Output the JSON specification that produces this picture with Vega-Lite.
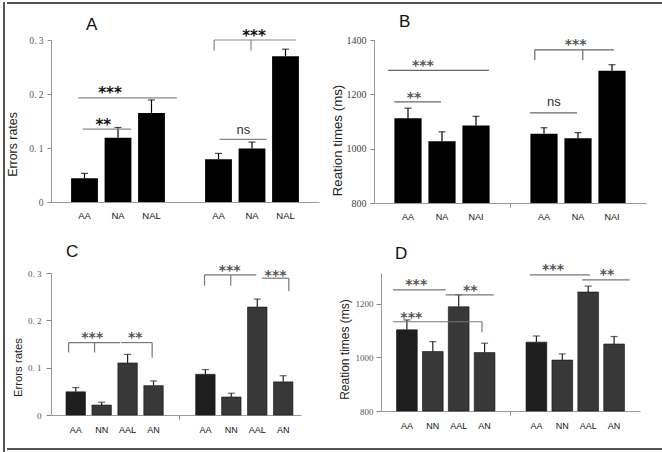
{
"$schema": "https://vega.github.io/schema/vega-lite/v6.json",
"background": "white",
"padding": {"left": 3, "top": 2, "right": 0, "bottom": 0},
"config": {"view": {"stroke": null}, "axis": {"grid": false, "domainColor": "#999", "tickColor": "#888", "labelAngle": 0}, "font": "Liberation Sans"},
"datasets": {
 "barsA": [{"key":"AA|1","c":"AA","v":0.044,"hi":0.053},{"key":"NA|1","c":"NA","v":0.119,"hi":0.138},{"key":"NAL|1","c":"NAL","v":0.165,"hi":0.189},{"key":"AA|2","c":"AA","v":0.079,"hi":0.090},{"key":"NA|2","c":"NA","v":0.099,"hi":0.111},{"key":"NAL|2","c":"NAL","v":0.270,"hi":0.283}],
 "linesA": [{"x1":0.81,"x2":3.76,"y1":0.193,"y2":0.193},{"x1":0.95,"x2":2.39,"y1":0.135,"y2":0.135},{"x1":5.03,"x2":6.44,"y1":0.116,"y2":0.116},{"x1":4.87,"x2":7.31,"y1":0.300,"y2":0.300},{"x1":4.87,"x2":4.87,"y1":0.280,"y2":0.300},{"x1":5.97,"x2":5.97,"y1":0.280,"y2":0.300}],
 "textA": [{"x":1.76,"y":0.207,"t":"***"},{"x":1.56,"y":0.149,"t":"**"},{"x":5.74,"y":0.133,"t":"ns"},{"x":6.06,"y":0.313,"t":"***"}],
 "barsB": [{"key":"AA|1","c":"AA","v":1112,"hi":1149},{"key":"NA|1","c":"NA","v":1027,"hi":1062},{"key":"NAI|1","c":"NAI","v":1085,"hi":1119},{"key":"AA|2","c":"AA","v":1055,"hi":1077},{"key":"NA|2","c":"NA","v":1038,"hi":1059},{"key":"NAI|2","c":"NAI","v":1287,"hi":1309}],
 "linesB": [{"x1":0.41,"x2":3.38,"y1":1288,"y2":1288},{"x1":0.59,"x2":1.97,"y1":1172,"y2":1172},{"x1":4.59,"x2":5.97,"y1":1132,"y2":1132},{"x1":4.73,"x2":7.06,"y1":1364,"y2":1364},{"x1":4.73,"x2":4.73,"y1":1326,"y2":1364},{"x1":6.14,"x2":6.14,"y1":1326,"y2":1364}],
 "textB": [{"x":1.44,"y":1315,"t":"***"},{"x":1.18,"y":1197,"t":"**"},{"x":5.29,"y":1172,"t":"ns"},{"x":5.93,"y":1391,"t":"***"}],
 "barsC": [{"key":"AA|1","c":"AA","v":0.049,"hi":0.058},{"key":"NN|1","c":"NN","v":0.021,"hi":0.027},{"key":"AAL|1","c":"AAL","v":0.110,"hi":0.128},{"key":"AN|1","c":"AN","v":0.062,"hi":0.072},{"key":"AA|2","c":"AA","v":0.086,"hi":0.096},{"key":"NN|2","c":"NN","v":0.038,"hi":0.046},{"key":"AAL|2","c":"AAL","v":0.228,"hi":0.245},{"key":"AN|2","c":"AN","v":0.070,"hi":0.083}],
 "linesC": [{"x1":0.73,"x2":2.72,"y1":0.153,"y2":0.153},{"x1":0.73,"x2":0.73,"y1":0.132,"y2":0.153},{"x1":1.73,"x2":1.73,"y1":0.132,"y2":0.153},{"x1":2.76,"x2":3.95,"y1":0.153,"y2":0.153},{"x1":3.95,"x2":3.95,"y1":0.121,"y2":0.153},{"x1":5.97,"x2":7.96,"y1":0.296,"y2":0.296},{"x1":5.97,"x2":5.97,"y1":0.273,"y2":0.296},{"x1":6.98,"x2":6.98,"y1":0.273,"y2":0.296},{"x1":8.19,"x2":9.22,"y1":0.289,"y2":0.289},{"x1":9.22,"x2":9.22,"y1":0.262,"y2":0.289}],
 "textC": [{"x":1.64,"y":0.168,"t":"***"},{"x":3.30,"y":0.168,"t":"**"},{"x":6.94,"y":0.310,"t":"***"},{"x":8.71,"y":0.301,"t":"***"}],
 "barsD": [{"key":"AA|1","c":"AA","v":1103,"hi":1140},{"key":"NN|1","c":"NN","v":1022,"hi":1059},{"key":"AAL|1","c":"AAL","v":1189,"hi":1234},{"key":"AN|1","c":"AN","v":1018,"hi":1053},{"key":"AA|2","c":"AA","v":1057,"hi":1080},{"key":"NN|2","c":"NN","v":990,"hi":1013},{"key":"AAL|2","c":"AAL","v":1244,"hi":1266},{"key":"AN|2","c":"AN","v":1050,"hi":1078}],
 "linesD": [{"x1":0.46,"x2":2.50,"y1":1252,"y2":1252},{"x1":2.50,"x2":4.35,"y1":1233,"y2":1233},{"x1":0.46,"x2":3.90,"y1":1133,"y2":1133},{"x1":3.90,"x2":3.90,"y1":1094,"y2":1133},{"x1":5.74,"x2":8.06,"y1":1308,"y2":1308},{"x1":7.77,"x2":9.60,"y1":1289,"y2":1289}],
 "textD": [{"x":1.36,"y":1281,"t":"***"},{"x":3.45,"y":1259,"t":"**"},{"x":1.17,"y":1159,"t":"***"},{"x":6.64,"y":1337,"t":"***"},{"x":8.73,"y":1317,"t":"**"}]
},
"spacing": 0,
"hconcat": [
 {"width": 0.01, "height": 448, "view": {"stroke": "#555", "strokeWidth": 2}, "data": {"values": []}, "mark": "rect", "encoding": {}},
 {"spacing": 8, "vconcat": [
  {"width": 654, "height": 0.01, "view": {"stroke": "#555", "strokeWidth": 2}, "data": {"values": []}, "mark": "rect", "encoding": {}},
  {"spacing": 14, "vconcat": [
   {"spacing": -3, "hconcat": [
    {"width": 0.01, "height": 0.01, "data": {"values": []}, "mark": "rect", "encoding": {}},
    {"spacing": 22, "vconcat": [
     {"spacing": 11, "hconcat": [
      {"width": 268, "height": 162,
       "title": {"text": "A", "anchor": "start", "frame": "group", "dx": 35, "dy": 7, "offset": 2, "fontSize": 17, "fontWeight": "normal", "font": "Liberation Sans", "color": "#111"},
       "layer": [
        {"data": {"name": "barsA"},
         "encoding": {
          "x": {"field": "key", "type": "nominal", "sort": null, "scale": {"domain": ["AA|1","NA|1","NAL|1","gap","AA|2","NA|2","NAL|2"], "paddingInner": 0.2, "paddingOuter": 0.6},
                "axis": {"title": null, "labelExpr": "datum.value == 'gap' ? '' : split(datum.value, '|')[0]", "labelFont": "Liberation Sans", "labelFontSize": 9.5, "labelColor": "#111", "labelPadding": 8, "ticks": false}},
          "y": {"field": "v", "type": "quantitative", "title": "Errors rates", "scale": {"domain": [0, 0.3], "nice": false},
                "axis": {"title": "Errors rates", "values": [0,0.05,0.1,0.15,0.2,0.25,0.3], "labelExpr": "datum.value == 0 ? '0' : replace(format(datum.value, '.2~f'), '.', '. ')", "labelFont": "Liberation Serif", "labelFontSize": 9.5, "labelColor": "#556", "labelPadding": 4, "tickSize": 4, "titleFont": "Liberation Sans", "titleFontSize": 12.4, "titleFontWeight": "normal", "titleColor": "#222", "titleY": 104, "titlePadding": 9}}
         },
         "layer": [
          {"mark": {"type": "bar", "color": "#000"}},
          {"mark": {"type": "rule", "color": "#000", "strokeWidth": 1.2}, "encoding": {"y2": {"field": "hi"}}},
          {"mark": {"type": "tick", "color": "#000", "size": 7, "thickness": 1.2}, "encoding": {"y": {"field": "hi", "type": "quantitative", "title": "Errors rates"}}}
         ]},
        {"data": {"name": "linesA"}, "mark": {"type": "rule", "color": "#888", "strokeWidth": 1.2},
         "encoding": {"x": {"field": "x1", "type": "quantitative", "scale": {"domain": [0, 8], "nice": false, "zero": false}, "axis": null}, "x2": {"field": "x2"},
                      "y": {"field": "y1", "type": "quantitative", "title": "Errors rates", "scale": {"domain": [0, 0.3], "nice": false}}, "y2": {"field": "y2"}}},
        {"data": {"name": "textA"}, "transform": [{"filter": "datum.t != 'ns'"}], "mark": {"type": "text", "font": "DejaVu Sans", "fontWeight": "bold", "fontSize": 15, "color": "#111", "baseline": "alphabetic", "dy": 8},
         "encoding": {"x": {"field": "x", "type": "quantitative", "scale": {"domain": [0, 8], "nice": false, "zero": false}, "axis": null},
                      "y": {"field": "y", "type": "quantitative", "title": "Errors rates", "scale": {"domain": [0, 0.3], "nice": false}}, "text": {"field": "t"}}},
        {"data": {"name": "textA"}, "transform": [{"filter": "datum.t == 'ns'"}], "mark": {"type": "text", "font": "Liberation Sans", "fontSize": 13, "color": "#333", "baseline": "alphabetic", "dy": 4},
         "encoding": {"x": {"field": "x", "type": "quantitative", "scale": {"domain": [0, 8], "nice": false, "zero": false}, "axis": null},
                      "y": {"field": "y", "type": "quantitative", "title": "Errors rates", "scale": {"domain": [0, 0.3], "nice": false}}, "text": {"field": "t"}}}
       ],
       "resolve": {"scale": {"x": "independent"}}
      },
      {"width": 272, "height": 163,
       "title": {"text": "B", "anchor": "start", "frame": "group", "dx": 25, "dy": -2, "offset": 2, "fontSize": 17, "fontWeight": "normal", "font": "Liberation Sans", "color": "#111"},
       "layer": [
        {"data": {"name": "barsB"},
         "encoding": {
          "x": {"field": "key", "type": "nominal", "sort": null, "scale": {"domain": ["AA|1","NA|1","NAI|1","gap","AA|2","NA|2","NAI|2"], "paddingInner": 0.2, "paddingOuter": 0.6},
                "axis": {"title": null, "labelExpr": "datum.value == 'gap' ? '' : split(datum.value, '|')[0]", "labelFont": "Liberation Sans", "labelFontSize": 9, "labelColor": "#111", "labelPadding": 5, "tickSize": 4, "tickOpacity": {"condition": {"test": "datum.value == 'gap'", "value": 1}, "value": 0}}},
          "y": {"field": "v", "type": "quantitative", "title": "Reation times (ms)", "scale": {"domain": [800, 1400], "nice": false, "zero": false},
                "axis": {"title": "Reation times (ms)", "values": [800,1000,1200,1400], "format": "d", "labelFont": "Liberation Serif", "labelFontSize": 10, "labelColor": "#444", "labelPadding": 4, "tickSize": 4, "titleFont": "Liberation Sans", "titleFontSize": 13.3, "titleFontWeight": "normal", "titleColor": "#222", "titleY": 100, "titlePadding": 2}}
         },
         "layer": [
          {"mark": {"type": "bar", "color": "#000"}, "encoding": {"y2": {"datum": 800}}},
          {"mark": {"type": "rule", "color": "#000", "strokeWidth": 1.2}, "encoding": {"y2": {"field": "hi"}}},
          {"mark": {"type": "tick", "color": "#000", "size": 7, "thickness": 1.2}, "encoding": {"y": {"field": "hi", "type": "quantitative", "title": "Reation times (ms)"}}}
         ]},
        {"data": {"name": "linesB"}, "mark": {"type": "rule", "color": "#666", "strokeWidth": 1.2},
         "encoding": {"x": {"field": "x1", "type": "quantitative", "scale": {"domain": [0, 8], "nice": false, "zero": false}, "axis": null}, "x2": {"field": "x2"},
                      "y": {"field": "y1", "type": "quantitative", "title": "Reation times (ms)", "scale": {"domain": [800, 1400], "nice": false, "zero": false}}, "y2": {"field": "y2"}}},
        {"data": {"name": "textB"}, "transform": [{"filter": "datum.t != 'ns'"}], "mark": {"type": "text", "font": "DejaVu Sans", "fontWeight": "bold", "fontSize": 14, "color": "#555", "baseline": "alphabetic", "dy": 7},
         "encoding": {"x": {"field": "x", "type": "quantitative", "scale": {"domain": [0, 8], "nice": false, "zero": false}, "axis": null},
                      "y": {"field": "y", "type": "quantitative", "title": "Reation times (ms)", "scale": {"domain": [800, 1400], "nice": false, "zero": false}}, "text": {"field": "t"}}},
        {"data": {"name": "textB"}, "transform": [{"filter": "datum.t == 'ns'"}], "mark": {"type": "text", "font": "Liberation Sans", "fontSize": 13, "color": "#333", "baseline": "alphabetic", "dy": 4},
         "encoding": {"x": {"field": "x", "type": "quantitative", "scale": {"domain": [0, 8], "nice": false, "zero": false}, "axis": null},
                      "y": {"field": "y", "type": "quantitative", "title": "Reation times (ms)", "scale": {"domain": [800, 1400], "nice": false, "zero": false}}, "text": {"field": "t"}}}
       ],
       "resolve": {"scale": {"x": "independent"}}
      }
     ]},
     {"spacing": 37, "hconcat": [
      {"width": 250, "height": 142,
       "title": {"text": "C", "anchor": "start", "frame": "group", "dx": 15, "offset": 3, "fontSize": 17, "fontWeight": "normal", "font": "Liberation Sans", "color": "#111"},
       "layer": [
        {"data": {"name": "barsC"},
         "encoding": {
          "x": {"field": "key", "type": "nominal", "sort": null, "scale": {"domain": ["AA|1","NN|1","AAL|1","AN|1","gap","AA|2","NN|2","AAL|2","AN|2"], "paddingInner": 0.25, "paddingOuter": 0.445, "align": 0.65},
                "axis": {"title": null, "labelExpr": "datum.value == 'gap' ? '' : split(datum.value, '|')[0]", "labelFont": "Liberation Sans", "labelFontSize": 9, "labelColor": "#111", "labelPadding": 6, "tickSize": 4, "tickOpacity": {"condition": {"test": "datum.value == 'gap'", "value": 1}, "value": 0}}},
          "y": {"field": "v", "type": "quantitative", "title": "Errors rates", "scale": {"domain": [0, 0.3], "nice": false},
                "axis": {"title": "Errors rates", "values": [0,0.05,0.1,0.15,0.2,0.25,0.3], "labelExpr": "datum.value == 0 ? '0' : replace(format(datum.value, '.2~f'), '.', '. ')", "labelFont": "Liberation Serif", "labelFontSize": 9, "labelColor": "#556", "labelPadding": 5, "tickSize": 5, "titleFont": "Liberation Sans", "titleFontSize": 11.3, "titleFontWeight": "normal", "titleColor": "#222", "titleY": 94, "titlePadding": 4}}
         },
         "layer": [
          {"mark": {"type": "bar", "stroke": "#111", "strokeWidth": 0.6}, "encoding": {"color": {"condition": {"test": "datum.c == 'AA'", "value": "#1e1e1e"}, "value": "#383838"}}},
          {"mark": {"type": "rule", "color": "#222", "strokeWidth": 1.2}, "encoding": {"y2": {"field": "hi"}}},
          {"mark": {"type": "tick", "color": "#222", "size": 7, "thickness": 1.2}, "encoding": {"y": {"field": "hi", "type": "quantitative", "title": "Errors rates"}}}
         ]},
        {"data": {"name": "linesC"}, "mark": {"type": "rule", "color": "#777", "strokeWidth": 1.2},
         "encoding": {"x": {"field": "x1", "type": "quantitative", "scale": {"domain": [0.05, 9.69], "nice": false, "zero": false}, "axis": null}, "x2": {"field": "x2"},
                      "y": {"field": "y1", "type": "quantitative", "title": "Errors rates", "scale": {"domain": [0, 0.3], "nice": false}}, "y2": {"field": "y2"}}},
        {"data": {"name": "textC"}, "mark": {"type": "text", "font": "DejaVu Sans", "fontWeight": "bold", "fontSize": 14, "color": "#555", "baseline": "alphabetic", "dy": 7},
         "encoding": {"x": {"field": "x", "type": "quantitative", "scale": {"domain": [0.05, 9.69], "nice": false, "zero": false}, "axis": null},
                      "y": {"field": "y", "type": "quantitative", "title": "Errors rates", "scale": {"domain": [0, 0.3], "nice": false}}, "text": {"field": "t"}}}
       ],
       "resolve": {"scale": {"x": "independent"}}
      },
      {"width": 259, "height": 138,
       "title": {"text": "D", "anchor": "start", "frame": "group", "dx": 14, "dy": 2, "offset": 2, "fontSize": 17, "fontWeight": "normal", "font": "Liberation Sans", "color": "#111"},
       "layer": [
        {"data": {"name": "barsD"},
         "encoding": {
          "x": {"field": "key", "type": "nominal", "sort": null, "scale": {"domain": ["AA|1","NN|1","AAL|1","AN|1","gap","AA|2","NN|2","AAL|2","AN|2"], "paddingInner": 0.2, "paddingOuter": 0.6},
                "axis": {"title": null, "labelExpr": "datum.value == 'gap' ? '' : split(datum.value, '|')[0]", "labelFont": "Liberation Sans", "labelFontSize": 9, "labelColor": "#111", "labelPadding": 6, "tickSize": 4, "tickOpacity": {"condition": {"test": "datum.value == 'gap'", "value": 1}, "value": 0}}},
          "y": {"field": "v", "type": "quantitative", "title": "Reation times (ms)", "scale": {"domain": [800, 1315], "nice": false, "zero": false},
                "axis": {"title": "Reation times (ms)", "values": [800,1000,1200], "format": "d", "labelFont": "Liberation Serif", "labelFontSize": 9, "labelColor": "#556", "labelPadding": 3, "tickSize": 5, "titleFont": "Liberation Sans", "titleFontSize": 12, "titleFontWeight": "normal", "titleColor": "#222", "titleY": 76, "titlePadding": 4}}
         },
         "layer": [
          {"mark": {"type": "bar", "stroke": "#111", "strokeWidth": 0.6}, "encoding": {"y2": {"datum": 800}, "color": {"condition": {"test": "datum.c == 'AA'", "value": "#1e1e1e"}, "value": "#383838"}}},
          {"mark": {"type": "rule", "color": "#222", "strokeWidth": 1.2}, "encoding": {"y2": {"field": "hi"}}},
          {"mark": {"type": "tick", "color": "#222", "size": 7, "thickness": 1.2}, "encoding": {"y": {"field": "hi", "type": "quantitative", "title": "Reation times (ms)"}}}
         ]},
        {"data": {"name": "linesD"}, "mark": {"type": "rule", "color": "#777", "strokeWidth": 1.2},
         "encoding": {"x": {"field": "x1", "type": "quantitative", "scale": {"domain": [0, 10], "nice": false, "zero": false}, "axis": null}, "x2": {"field": "x2"},
                      "y": {"field": "y1", "type": "quantitative", "title": "Reation times (ms)", "scale": {"domain": [800, 1315], "nice": false, "zero": false}}, "y2": {"field": "y2"}}},
        {"data": {"name": "textD"}, "mark": {"type": "text", "font": "DejaVu Sans", "fontWeight": "bold", "fontSize": 14, "color": "#555", "baseline": "alphabetic", "dy": 7},
         "encoding": {"x": {"field": "x", "type": "quantitative", "scale": {"domain": [0, 10], "nice": false, "zero": false}, "axis": null},
                      "y": {"field": "y", "type": "quantitative", "title": "Reation times (ms)", "scale": {"domain": [800, 1315], "nice": false, "zero": false}}, "text": {"field": "t"}}}
       ],
       "resolve": {"scale": {"x": "independent"}}
      }
     ]}
    ]}
   ]},
   {"width": 654, "height": 0.01, "view": {"stroke": "#555", "strokeWidth": 2}, "data": {"values": []}, "mark": "rect", "encoding": {}}
  ]}
 ]},
 {"width": 0.01, "height": 448, "view": {"stroke": "#555", "strokeWidth": 2}, "data": {"values": []}, "mark": "rect", "encoding": {}}
]
}
